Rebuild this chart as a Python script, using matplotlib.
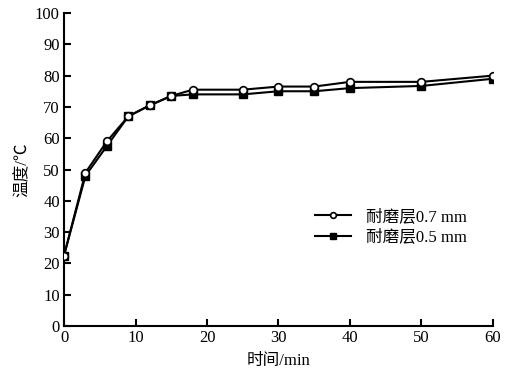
import matplotlib
matplotlib.use("Agg")
import matplotlib.pyplot as plt

# 时间 (min)
time_min = [0, 3, 6, 9, 12, 15, 18, 25, 30, 35, 40, 50, 60]
# 温度 (℃)
temp_07 = [22.5, 49.0, 59.0, 67.0, 70.5, 73.5, 75.5, 75.5, 76.5, 76.5, 78.0, 78.0, 80.0]
temp_05 = [22.5, 48.0, 57.5, 67.0, 70.5, 73.5, 74.0, 74.0, 75.0, 75.0, 76.0, 76.7, 79.0]

x_ticks = [0, 10, 20, 30, 40, 50, 60]
y_ticks = list(range(0, 101, 10))

plt.rcParams['font.family'] = ['Liberation Serif', 'Noto Sans CJK SC']
plt.rcParams['font.size'] = 12

fig = plt.figure(figsize=(5.23, 3.76), dpi=100)
ax = fig.add_axes([0.1224, 0.133, 0.8202, 0.8324])

ax.plot(time_min, temp_07, color='black', lw=1.5, marker='o', ms=5.5,
        mfc='white', mec='black', mew=1.2, label='耐磨层0.7 mm', zorder=3)
ax.plot(time_min, temp_05, color='black', lw=1.5, marker='s', ms=6.2,
        mfc='black', mec='black', label='耐磨层0.5 mm', zorder=2)

ax.set_xlim(0, 60)
ax.set_ylim(0, 100)
ax.set_xticks(x_ticks)
ax.set_yticks(y_ticks)
ax.spines['top'].set_visible(False)
ax.spines['right'].set_visible(False)
ax.spines['left'].set_linewidth(1.5)
ax.spines['bottom'].set_linewidth(1.5)
ax.tick_params(direction='in', length=5, width=1.5, labelsize=12, pad=3)

ax.set_xlabel('时间/min', fontsize=12, labelpad=5)
ax.set_ylabel('温度/℃', fontsize=12, labelpad=3)

ax.legend(loc='center right', bbox_to_anchor=(0.975, 0.315), frameon=False,
          fontsize=12, handlelength=2.2, handletextpad=0.9, labelspacing=0.25,
          markerscale=0.75)

fig.savefig('out.png', dpi=100)
